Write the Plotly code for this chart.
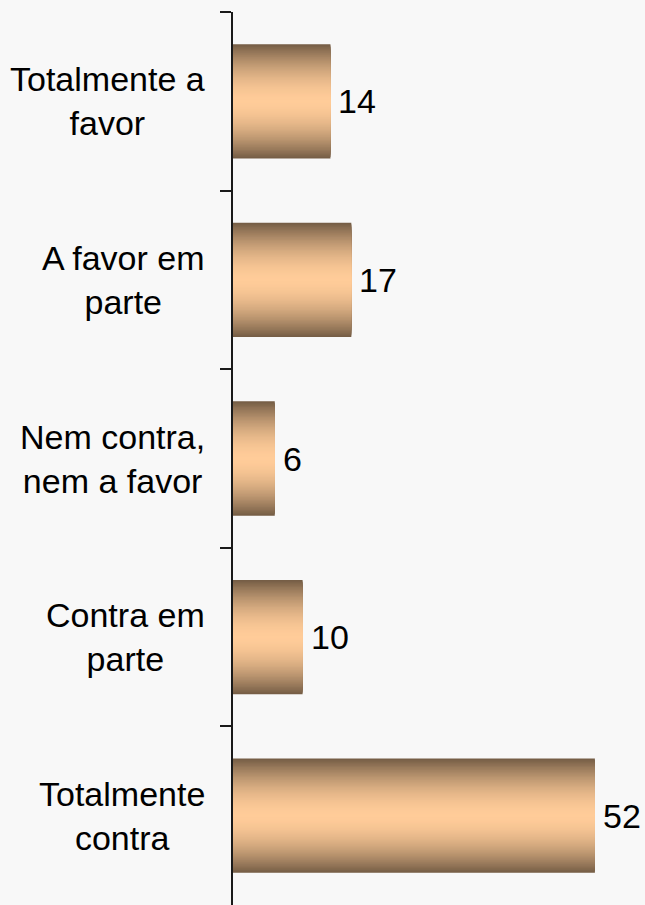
import plotly.graph_objects as go

categories = ["Totalmente a favor", "A favor em parte", "Nem contra, nem a favor",
              "Contra em parte", "Totalmente contra"]
category_labels = ["Totalmente a<br>favor", "A favor em<br>parte", "Nem contra,<br>nem a favor",
                   "Contra em<br>parte", "Totalmente<br>contra"]
values = [14, 17, 6, 10, 52]

FONT = "Liberation Sans, Arial, sans-serif"
BG = "#f8f8f8"
BAR_W = 0.64
DARK = (118, 94, 70)
LIGHT = (255, 204, 153)
N_LAYERS = 40
POWER = 1.8


def mix(d):
    f = d ** POWER
    return "rgb({},{},{})".format(*[round(LIGHT[k] + (DARK[k] - LIGHT[k]) * f) for k in range(3)])


fig = go.Figure()
for i in range(N_LAYERS):
    d = 1 - i / N_LAYERS
    fig.add_trace(go.Bar(
        x=values, y=categories, orientation="h",
        width=BAR_W * d,
        marker=dict(color=mix(d), line=dict(width=0)),
        showlegend=False, hoverinfo="skip",
    ))

annotations = []
for cat, lab in zip(categories, category_labels):
    annotations.append(dict(
        x=0, xref="paper", y=cat, yref="y", text=lab, showarrow=False,
        xanchor="right", yanchor="middle", align="center", xshift=-26,
        font=dict(family=FONT, size=34, color="#000000"),
    ))
for cat, v in zip(categories, values):
    annotations.append(dict(
        x=v, xref="x", y=cat, yref="y", text=str(v), showarrow=False,
        xanchor="left", yanchor="middle", xshift=6,
        font=dict(family=FONT, size=34, color="#000000"),
    ))

fig.update_layout(
    width=645, height=905,
    margin=dict(l=233, r=0, t=12, b=0),
    paper_bgcolor=BG, plot_bgcolor=BG,
    barmode="overlay",
    annotations=annotations,
    font=dict(family=FONT, size=34, color="#000000"),
    xaxis=dict(range=[0, 59.2], visible=False, showgrid=False, zeroline=False),
    yaxis=dict(
        categoryorder="array", categoryarray=categories,
        range=[4.5, -0.5], showticklabels=False,
        showline=True, linewidth=2, linecolor="#1a1a1a",
        ticks="outside", ticklen=11, tickwidth=2, tickcolor="#1a1a1a",
        tickson="boundaries", showgrid=False, zeroline=False,
    ),
)

fig.write_html(
    "out.html",
    config={"displayModeBar": False},
    post_script="document.body.style.margin='0';document.body.style.background='#f8f8f8';",
)
